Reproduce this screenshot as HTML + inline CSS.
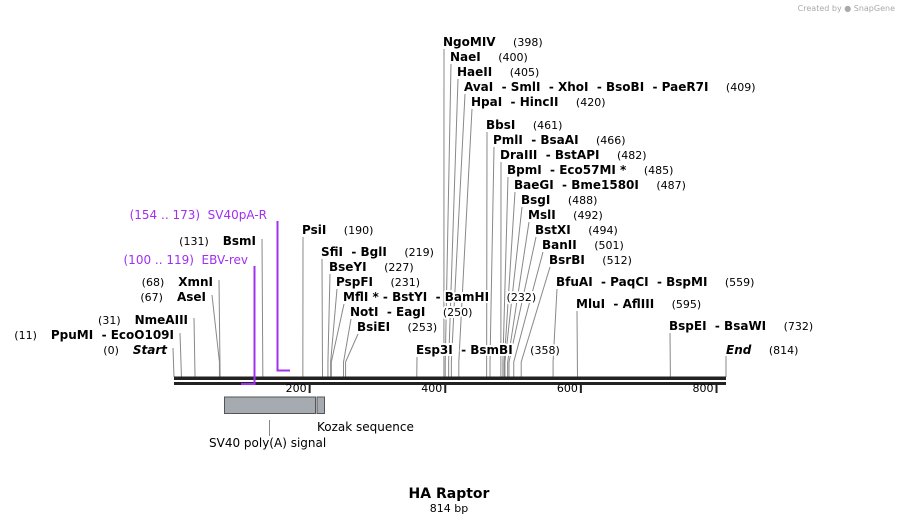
<!DOCTYPE html>
<html><head><meta charset="utf-8"><style>
body{margin:0;background:#fff;}
svg{display:block;font-family:"DejaVu Sans","Liberation Sans",sans-serif;}
svg text{white-space:pre;}
#labels text{paint-order:stroke;stroke:#fff;stroke-width:4px;stroke-linejoin:round;}
.n{font-weight:bold;font-size:12px;fill:#000;}
.p{font-size:11px;fill:#000;}
.pp{font-size:12px;fill:#a030f0;}
</style></head><body>
<svg id="map" width="900" height="524" viewBox="0 0 900 524">
<text x="895" y="11" text-anchor="end" font-size="8" fill="#aaa">Created by ● SnapGene</text>
<g id="lines"></g>
<g id="labels"></g>
<rect x="174" y="376.5" width="552" height="3.5" fill="#222"/>
<rect x="174" y="382" width="552" height="3" fill="#222"/>
<g id="ticks"></g>
<rect x="224.5" y="397" width="91" height="16.5" fill="#a6abb2" stroke="#555" stroke-width="1"/>
<rect x="317" y="397" width="7.5" height="16.5" fill="#a6abb2" stroke="#555" stroke-width="1"/>
<line x1="269.5" y1="420" x2="269.5" y2="436" stroke="#888"/>
<text x="317" y="431" font-size="12">Kozak sequence</text>
<text x="209" y="447" font-size="12">SV40 poly(A) signal</text>
<polyline points="254.5,266 254.5,384 241,384" fill="none" stroke="#a030f0" stroke-width="2"/>
<polyline points="277.5,221 277.5,370.5 290,370.5" fill="none" stroke="#a030f0" stroke-width="2"/>
<text x="248" y="264" text-anchor="end" class="pp">(100 .. 119)  EBV-rev</text>
<text x="267" y="219" text-anchor="end" class="pp">(154 .. 173)  SV40pA-R</text>
<text x="449" y="498" text-anchor="middle" font-size="14" font-weight="bold">HA Raptor</text>
<text x="449" y="512" text-anchor="middle" font-size="11">814 bp</text>
</svg>
<script>
const seqLen = 814;
const tickVals = [200, 400, 600, 800];
const rNames = ["NgoMIV","NaeI","HaeII","AvaI  - SmlI  - XhoI  - BsoBI  - PaeR7I","HpaI  - HincII","BbsI","PmlI  - BsaAI","DraIII  - BstAPI","BpmI  - Eco57MI *","BaeGI  - Bme1580I","BsgI","MslI","BstXI","BanII","BsrBI","BfuAI  - PaqCI  - BspMI","MluI  - AflIII","BspEI  - BsaWI","Esp3I  - BsmBI","PsiI","SfiI  - BglI","BseYI","PspFI","MflI * - BstYI  - BamHI","NotI  - EagI","BsiEI"];
const rSites = [398,400,405,409,420,461,466,482,485,487,488,492,494,501,512,559,595,732,358,190,219,227,231,232,250,253];
const rLx = [443,450,457,464,471,486,493,500,507,514,521,528,535,542,549,556,576,669,416,302,321,329,336,343,350,357];
const rLy = [46,61,76,91,106,129,144,159,174,189,204,219,234,249,264,286,308,330,354,234,256,271,286,301,316,331];
const lNames = ["Start","PpuMI  - EcoO109I","NmeAIII","AseI","XmnI","BsmI"];
const lSites = [0,11,31,67,68,131];
const lAx = [173,180,194,212,219,262];
const lLy = [354,339,324,301,286,245];
const ns="http://www.w3.org/2000/svg";
function xs(bp){return 174 + bp*552/seqLen;}
const L=document.getElementById('lines'), T=document.getElementById('labels'), K=document.getElementById('ticks');
function mk(tag,attrs,parent){const e=document.createElementNS(ns,tag);for(const k in attrs)e.setAttribute(k,attrs[k]);parent.appendChild(e);return e;}
function slug(s){return s.split(' ')[0].toLowerCase().replace(/[^a-z0-9]/g,'');}
rNames.forEach((nm,i)=>{
  const sx=xs(rSites[i]);const ax=rLx[i]+1, ay=rLy[i]+3;
  const pts = Math.abs(ax-sx)<1.5 ? `${ax},${ay} ${sx},377` : `${ax},${ay} ${sx},${Math.max(ay,362)} ${sx},377`;
  const pl=mk('polyline',{points:pts,fill:'none',stroke:'#888','stroke-width':1},L);
  
  
  const t=mk('text',{x:rLx[i],y:rLy[i]},T);
  
  
  const a=mk('tspan',{class:'n'},t);a.textContent=nm;
  const b=mk('tspan',{class:'p'},t);b.textContent='     ('+rSites[i]+')';
});
(function(){
  const sx=xs(seqLen);
  const pl=mk('line',{x1:sx,y1:356,x2:sx,y2:377,stroke:'#888'},L);
  
  
  const t=mk('text',{x:sx,y:354},T);
  
  
  const a=mk('tspan',{class:'n','font-style':'italic'},t);a.textContent='End';
  const b=mk('tspan',{class:'p'},t);b.textContent='     ('+seqLen+')';
})();
lNames.forEach((nm,i)=>{
  const sx=xs(lSites[i]);const ax=lAx[i], ay=lLy[i]-6;
  const pts = Math.abs(ax-sx)<1.5 ? `${ax},${ay} ${sx},377` : `${ax},${ay} ${sx},${Math.max(ay,362)} ${sx},377`;
  const pl=mk('polyline',{points:pts,fill:'none',stroke:'#888'},L);
  
  
  const t=mk('text',{x:ax-6,y:lLy[i],'text-anchor':'end'},T);
  
  
  const b=mk('tspan',{class:'p'},t);b.textContent='('+lSites[i]+')    ';
  const a=mk('tspan',{class:'n'},t);a.textContent=nm;
  if(i===0)a.setAttribute('font-style','italic');
});
tickVals.forEach(v=>{
  const x=xs(v);
  const l=mk('line',{x1:x,y1:384,x2:x,y2:393,stroke:'#222','stroke-width':2},K);
  
  
  const t=mk('text',{x:x-3,y:392,'text-anchor':'end','font-size':11},K);
  
  
  t.textContent=v;
});
</script>
</body></html>
